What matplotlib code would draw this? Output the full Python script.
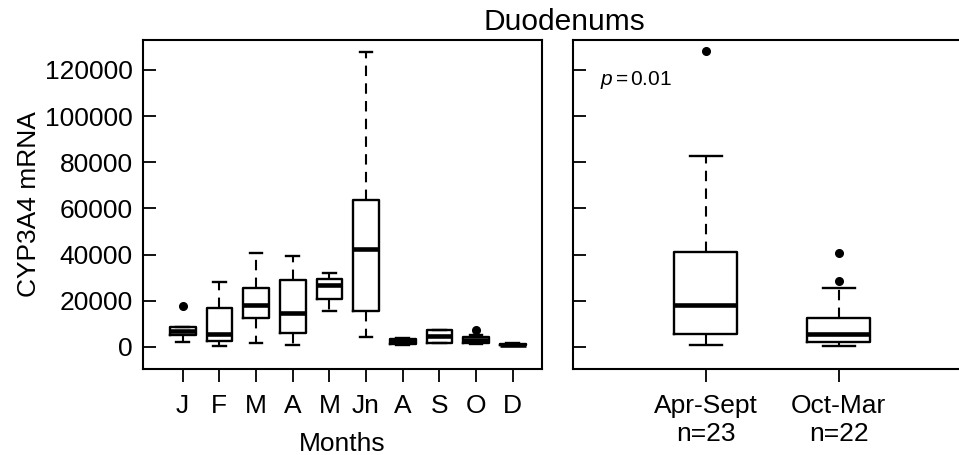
import numpy as np
import matplotlib.pyplot as plt

plt.rcParams['font.family'] = ['Liberation Sans', 'DejaVu Sans']
plt.rcParams['mathtext.fontset'] = 'custom'
plt.rcParams['mathtext.it'] = 'Liberation Sans:italic'
plt.rcParams['mathtext.rm'] = 'Liberation Sans'

# Monthly CYP3A4 mRNA boxes
months = ['J', 'F', 'M', 'A', 'M', 'Jn', 'A', 'S', 'O', 'D']
m_lo = [2200, 300, 1700, 1000, 15400, 4300, 900, 1700, 1200, 600]
m_q1 = [5000, 2600, 12400, 5800, 20900, 15600, 1200, 1700, 1700, 800]
m_med = [6700, 5500, 18100, 14700, 27000, 42600, 2400, 4600, 2900, 1000]
m_q3 = [8400, 17000, 25700, 28900, 29200, 63500, 3600, 7500, 4100, 1300]
m_hi = [8400, 27900, 40800, 39200, 32000, 128000, 3900, 7500, 5100, 1500]
m_out = [[17700], [], [], [], [], [], [], [], [7200], []]

# Seasonal groups
seasons = ['Apr-Sept\nn=23', 'Oct-Mar\nn=22']
s_lo = [700, 300]
s_q1 = [5400, 1900]
s_med = [18100, 5400]
s_q3 = [41000, 12300]
s_hi = [82800, 25300]
s_out = [[128200], [28600, 40500]]

yticks = [0, 20000, 40000, 60000, 80000, 100000, 120000]


def make_stats(lo, q1, med, q3, hi, out):
    return [dict(whislo=a, q1=b, med=c, q3=d, whishi=e, fliers=f)
            for a, b, c, d, e, f in zip(lo, q1, med, q3, hi, out)]


W, H = 959, 455
fig = plt.figure(figsize=(W / 100, H / 100), dpi=100)
ax1 = fig.add_axes([142.7 / W, (H - 369) / H, 399 / W, 329 / H])
# right panel runs off the right edge of the figure, as in the original
ax2 = fig.add_axes([572.7 / W, (H - 369) / H, 440 / W, 329 / H])

box_kw = dict(
    boxprops=dict(color='black', linewidth=1.7),
    whiskerprops=dict(color='black', linewidth=1.5, linestyle=(0, (5, 3.5))),
    capprops=dict(color='black', linewidth=1.7),
    medianprops=dict(color='black', linewidth=3.3, solid_capstyle='butt'),
    flierprops=dict(marker='o', markerfacecolor='black', markeredgecolor='black', markersize=5.5),
)

pos1 = np.arange(1, len(months) + 1)
ax1.bxp(make_stats(m_lo, m_q1, m_med, m_q3, m_hi, m_out), positions=pos1,
        widths=0.7, capwidths=0.35, **box_kw)
ax1.set_xlim(-0.09, 10.79)
ax1.set_xticks(pos1)
ax1.set_xticklabels(months)

pos2 = np.arange(1, len(seasons) + 1)
ax2.bxp(make_stats(s_lo, s_q1, s_med, s_q3, s_hi, s_out), positions=pos2,
        widths=0.47, capwidths=0.24, **box_kw)
ax2.set_xlim(0, 440 / 133)
ax2.set_xticks(pos2)
ax2.set_xticklabels(seasons, linespacing=1.2)

for ax in (ax1, ax2):
    ax.set_ylim(-9600, 133000)
    ax.set_yticks(yticks)
    for sp in ax.spines.values():
        sp.set_linewidth(1.5)
    ax.tick_params(axis='y', direction='in', length=9.4, width=1.3, labelsize=19, pad=7)
    ax.tick_params(axis='x', direction='out', length=9.4, width=1.3, labelsize=19, pad=8.5)

ax2.tick_params(axis='y', labelleft=False)

ax1.set_ylabel('CYP3A4 mRNA', fontsize=19, labelpad=3)
ax1.set_xlabel('Months', fontsize=19, labelpad=10)

ax2.text(0.062, 0.878, r'$p\,$=$\,$0.01', transform=ax2.transAxes,
         fontsize=15, ha='left', va='center')

fig.text(564 / W, 1 - 22 / H, 'Duodenums', ha='center', va='center', fontsize=21.5)

fig.savefig('out.png', dpi=100)
